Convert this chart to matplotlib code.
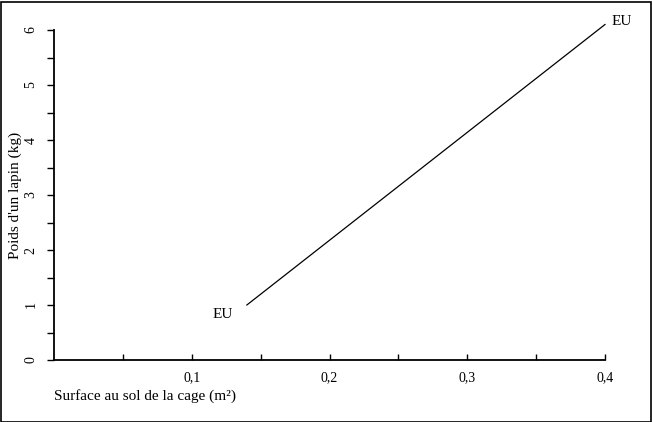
import matplotlib

matplotlib.use("Agg")
import matplotlib.pyplot as plt
from matplotlib.patches import Rectangle

plt.rcParams["font.family"] = ["Liberation Serif", "DejaVu Serif"]

# surface au sol (m2) vs poids du lapin (kg), droite EU
surface = [0.14, 0.40]
poids = [1.0, 6.1]
point_labels = ["EU", "EU"]

x_major = [0.1, 0.2, 0.3, 0.4]
x_major_labels = ["0,1", "0,2", "0,3", "0,4"]
x_minor = [0.05, 0.15, 0.25, 0.35]
y_major = [0, 1, 2, 3, 4, 5, 6]
y_minor = [0.5, 1.5, 2.5, 3.5, 4.5, 5.5]

fig = plt.figure(figsize=(6.52, 4.22), dpi=100)
ax = fig.add_axes([54 / 652, 62 / 422, 551 / 652, 330 / 422])

ax.plot(surface, poids, color="black", lw=0.9, clip_on=False)
ax.annotate(point_labels[0], (surface[0], poids[0]), textcoords="offset points",
            xytext=(-10, -6.5), ha="right", va="center", fontsize=11,
            annotation_clip=False)
ax.annotate(point_labels[1], (surface[1], poids[1]), textcoords="offset points",
            xytext=(5, 2), ha="left", va="center", fontsize=11,
            annotation_clip=False)

ax.set_xlim(0, 0.4)
ax.set_ylim(0, 6)
for side in ("top", "right"):
    ax.spines[side].set_visible(False)
ax.spines["left"].set_linewidth(1.3)
ax.spines["bottom"].set_linewidth(1.3)

ax.set_xticks(x_major)
ax.set_xticklabels(x_major_labels, fontsize=10)
ax.set_xticks(x_minor, minor=True)
ax.tick_params(axis="x", which="both", direction="in", length=4, width=1, pad=8)

ax.set_yticks(y_major)
ax.set_yticklabels([str(v) for v in y_major], fontsize=10, rotation=90, va="center")
ax.set_yticks(y_minor, minor=True)
ax.tick_params(axis="y", which="both", direction="out", length=5, width=1, pad=7)

ax.set_xlabel("Surface au sol de la cage (m²)", fontsize=11, ha="left", va="center")
ax.xaxis.set_label_coords(0.0, -0.109)
ax.set_ylabel("Poids d'un lapin (kg)", fontsize=11, va="center")
ax.yaxis.set_label_coords(-0.07, 0.5)

fig.add_artist(Rectangle((0.5 / 652, 0.5 / 422), 650 / 652, 420 / 422,
                         transform=fig.transFigure, fill=False, lw=1.2, color="black"))

fig.savefig("out.png", dpi=100)
